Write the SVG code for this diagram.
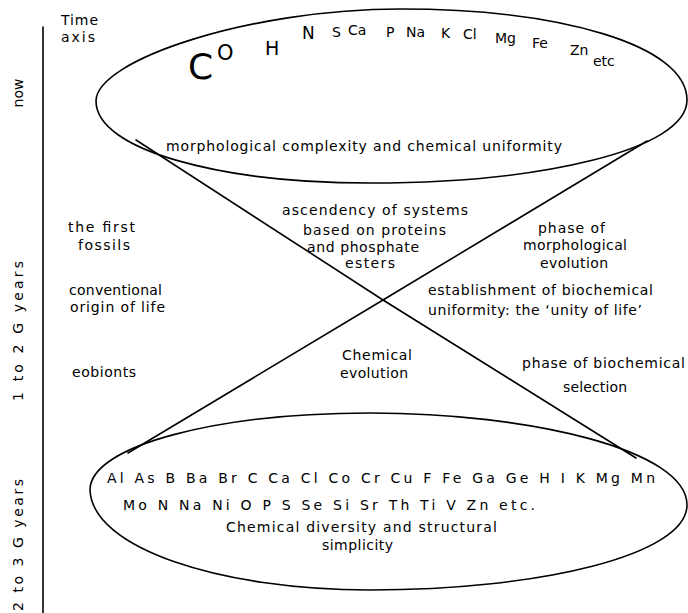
<svg xmlns="http://www.w3.org/2000/svg" width="688" height="613" viewBox="0 0 688 613">
<style>
.t { font-family: "DejaVu Sans", "Liberation Sans", sans-serif; font-size: 14px; fill: #000; }
.el { font-family: "DejaVu Sans", "Liberation Sans", sans-serif; fill: #000; }
.ln { fill: none; stroke: #000; stroke-width: 1.6; stroke-linejoin: round; stroke-linecap: round; }
</style>
<rect width="688" height="613" fill="#fff"/>

<g id="time-axis">
  <line class="ln" x1="43" y1="27" x2="43" y2="613" stroke-width="2"/>
  <text class="t" x="61" y="25" textLength="37" lengthAdjust="spacing">Time</text>
  <text class="t" x="61" y="42" textLength="34" lengthAdjust="spacing">axis</text>
  <text class="t" transform="translate(23,93) rotate(-90)" text-anchor="middle">now</text>
  <text class="t" transform="translate(23,331) rotate(-90)" text-anchor="middle" textLength="140" lengthAdjust="spacing">1 to 2 G years</text>
  <text class="t" transform="translate(23,545) rotate(-90)" text-anchor="middle" textLength="132" lengthAdjust="spacing">2 to 3 G years</text>
</g>

<g id="top-ellipse">
  <path class="ln" d="M 96,101 C 96,60 250,9 400,9 C 560,9 687,45 687,100 C 687,150 540,183 370,183 C 220,183 96,150 96,101 Z"/>
  <text class="el" x="188" y="79" font-size="36">C</text>
  <text class="el" x="217" y="60" font-size="21">O</text>
  <text class="el" x="265" y="55" font-size="19">H</text>
  <text class="el" x="302" y="39" font-size="17">N</text>
  <text class="el" x="332" y="37" font-size="14">S</text>
  <text class="el" x="348" y="35" font-size="14">Ca</text>
  <text class="el" x="386" y="37" font-size="14">P</text>
  <text class="el" x="406" y="37" font-size="14">Na</text>
  <text class="el" x="441" y="38" font-size="14">K</text>
  <text class="el" x="463" y="39" font-size="14">Cl</text>
  <text class="el" x="495" y="43" font-size="14">Mg</text>
  <text class="el" x="532" y="48" font-size="14">Fe</text>
  <text class="el" x="570" y="55" font-size="14">Zn</text>
  <text class="el" x="593" y="66" font-size="14">etc</text>
  <text class="t" x="166" y="151" textLength="396" lengthAdjust="spacing">morphological  complexity and chemical  uniformity</text>
</g>

<g id="bottom-ellipse">
  <path class="ln" d="M 90,490 C 90,445 220,413 370,413 C 530,413 687,450 687,505 C 687,555 540,590 370,590 C 220,590 92,548 90,490 Z"/>
  <text class="t" x="107" y="483" textLength="548" lengthAdjust="spacing">Al As B Ba Br C Ca Cl Co Cr Cu F Fe Ga Ge H I K Mg Mn</text>
  <text class="t" x="123" y="510" textLength="412" lengthAdjust="spacing">Mo N Na Ni  O P S Se Si Sr Th Ti  V Zn etc.</text>
  <text class="t" x="226" y="532" textLength="271" lengthAdjust="spacing">Chemical diversity and structural</text>
  <text class="t" x="322" y="550" textLength="71" lengthAdjust="spacing">simplicity</text>
</g>

<g id="connectors">
  <polyline class="ln" points="136,140 383,300 636,458"/>
  <polyline class="ln" points="647,141 383,300 128,453"/>
</g>

<g id="left-labels">
  <text class="t" x="68" y="232" textLength="67" lengthAdjust="spacing">the first</text>
  <text class="t" x="78" y="250" textLength="52" lengthAdjust="spacing">fossils</text>
  <text class="t" x="69" y="295" textLength="93" lengthAdjust="spacing">conventional</text>
  <text class="t" x="70" y="312" textLength="95" lengthAdjust="spacing">origin of life</text>
  <text class="t" x="72" y="377" textLength="64" lengthAdjust="spacing">eobionts</text>
</g>

<g id="upper-centre-label">
  <text class="t" x="282" y="215" textLength="186" lengthAdjust="spacing">ascendency of systems</text>
  <text class="t" x="303" y="235" textLength="143" lengthAdjust="spacing">based on proteins</text>
  <text class="t" x="307" y="252" textLength="112" lengthAdjust="spacing">and phosphate</text>
  <text class="t" x="345" y="268" textLength="50" lengthAdjust="spacing">esters</text>
</g>

<g id="morphological-phase">
  <text class="t" x="538" y="233" textLength="67" lengthAdjust="spacing">phase of</text>
  <text class="t" x="523" y="250" textLength="104" lengthAdjust="spacing">morphological</text>
  <text class="t" x="540" y="268" textLength="68" lengthAdjust="spacing">evolution</text>
</g>

<g id="unity-label">
  <text class="t" x="428" y="295" textLength="225" lengthAdjust="spacing">establishment of biochemical</text>
  <text class="t" x="428" y="315" textLength="214" lengthAdjust="spacing">uniformity: the ‘unity of life’</text>
</g>

<g id="chemical-evolution">
  <text class="t" x="342" y="360" textLength="70" lengthAdjust="spacing">Chemical</text>
  <text class="t" x="340" y="378" textLength="68" lengthAdjust="spacing">evolution</text>
</g>

<g id="biochemical-selection">
  <text class="t" x="522" y="368" textLength="163" lengthAdjust="spacing">phase of biochemical</text>
  <text class="t" x="563" y="392" textLength="64" lengthAdjust="spacing">selection</text>
</g>
</svg>
